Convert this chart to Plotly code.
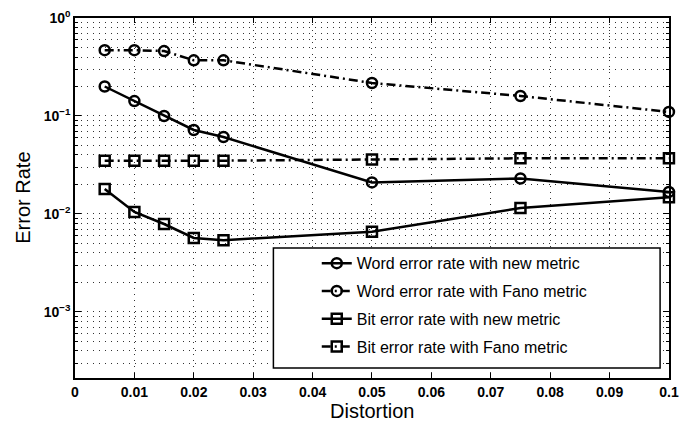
import plotly.graph_objects as go
import math

distortion = [0.005, 0.01, 0.015, 0.02, 0.025, 0.05, 0.075, 0.1]
word_new = [0.20, 0.142, 0.10, 0.072, 0.061, 0.021, 0.023, 0.0168]
word_fano = [0.47, 0.47, 0.46, 0.37, 0.37, 0.217, 0.16, 0.11]
bit_new = [0.018, 0.0105, 0.0079, 0.0057, 0.0054, 0.0066, 0.0115, 0.0148]
bit_fano = [0.035, 0.035, 0.035, 0.035, 0.035, 0.036, 0.037, 0.037]

series_names = [
    "Word error rate with new metric",
    "Word error rate with Fano metric",
    "Bit error rate with new metric",
    "Bit error rate with Fano metric",
]

x_ticks = [0, 0.01, 0.02, 0.03, 0.04, 0.05, 0.06, 0.07, 0.08, 0.09, 0.1]
x_ticklabels = ["0", "0.01", "0.02", "0.03", "0.04", "0.05", "0.06", "0.07", "0.08", "0.09", "0.1"]
y_ticks = [1, 0.1, 0.01, 0.001]
y_ticklabels = ["10<sup>0</sup>", "10<sup>−1</sup>", "10<sup>−2</sup>", "10<sup>−3</sup>"]
x_title = "Distortion"
y_title = "Error Rate"

minor_vals = [m * 10 ** e for e in range(-4, 0) for m in range(2, 10)]

dashdot = "9px,4px,2px,4px"
styles = [
    (word_new, "solid", "circle-open"),
    (word_fano, dashdot, "circle-open"),
    (bit_new, "solid", "square-open"),
    (bit_fano, dashdot, "square-open"),
]

fig = go.Figure()
for i, ((vals, dash, sym), name) in enumerate(zip(styles, series_names)):
    fig.add_trace(go.Scatter(
        x=distortion, y=vals, name=name, mode="lines+markers",
        legendgroup=f"g{i}", cliponaxis=False,
        line=dict(color="black", width=2.5, dash=dash),
        marker=dict(symbol=sym, size=10, color="black", line=dict(width=2.5, color="black")),
    ))

font_family = "Liberation Sans, Arial, sans-serif"
grid_color = "#333"
grid_dash = "1px,5px"

# legend frame (drawn behind the legend text, above the data)
fig.add_shape(type="rect", xref="paper", yref="paper",
              x0=0.334, x1=0.985, y0=0.028, y1=0.361,
              fillcolor="white", line=dict(color="black", width=1.5), layer="above")

# axis titles
fig.add_annotation(text=x_title, xref="paper", yref="paper", x=0.5, y=-0.092,
                   xanchor="center", yanchor="middle", showarrow=False,
                   font=dict(size=20, family=font_family, color="black"))
fig.add_annotation(text=y_title, xref="paper", yref="paper", x=-0.088, y=0.5,
                   xanchor="center", yanchor="middle", textangle=-90, showarrow=False,
                   font=dict(size=20, family=font_family, color="black"))

fig.update_layout(
    width=687, height=425,
    margin=dict(l=75, r=8, t=18, b=47),
    paper_bgcolor="white", plot_bgcolor="white",
    font=dict(family=font_family, color="black", size=13),
    legend=dict(
        x=0.407, y=0.366, xanchor="left", yanchor="top",
        borderwidth=0, bgcolor="rgba(0,0,0,0)",
        font=dict(size=16, family=font_family, color="black"),
        traceorder="grouped", tracegroupgap=4,
    ),
    showlegend=True,
)
fig.update_xaxes(
    range=[0, 0.10001], tickvals=x_ticks, ticktext=x_ticklabels,
    ticks="inside", ticklen=5, tickwidth=1, tickcolor="black",
    showline=True, linecolor="black", linewidth=1.5, mirror="ticks",
    showgrid=True, gridcolor=grid_color, griddash=grid_dash, gridwidth=1,
    zeroline=False,
    tickfont=dict(size=14, family=font_family, weight="bold"),
)
fig.update_yaxes(
    type="log", range=[math.log10(2.12e-4), 0], tickvals=y_ticks, ticktext=y_ticklabels,
    ticks="inside", ticklen=6, tickwidth=1, tickcolor="black",
    showline=True, linecolor="black", linewidth=1.5, mirror="ticks",
    showgrid=True, gridcolor=grid_color, griddash=grid_dash, gridwidth=1,
    zeroline=False,
    minor=dict(tickvals=minor_vals, ticks="inside", ticklen=3, tickcolor="black",
               showgrid=True, gridcolor=grid_color, griddash=grid_dash, gridwidth=1),
    tickfont=dict(size=14, family=font_family, weight="bold"),
)

fig.write_html("out.html", config={"displayModeBar": False},
               post_script="document.body.style.margin='0px';")
